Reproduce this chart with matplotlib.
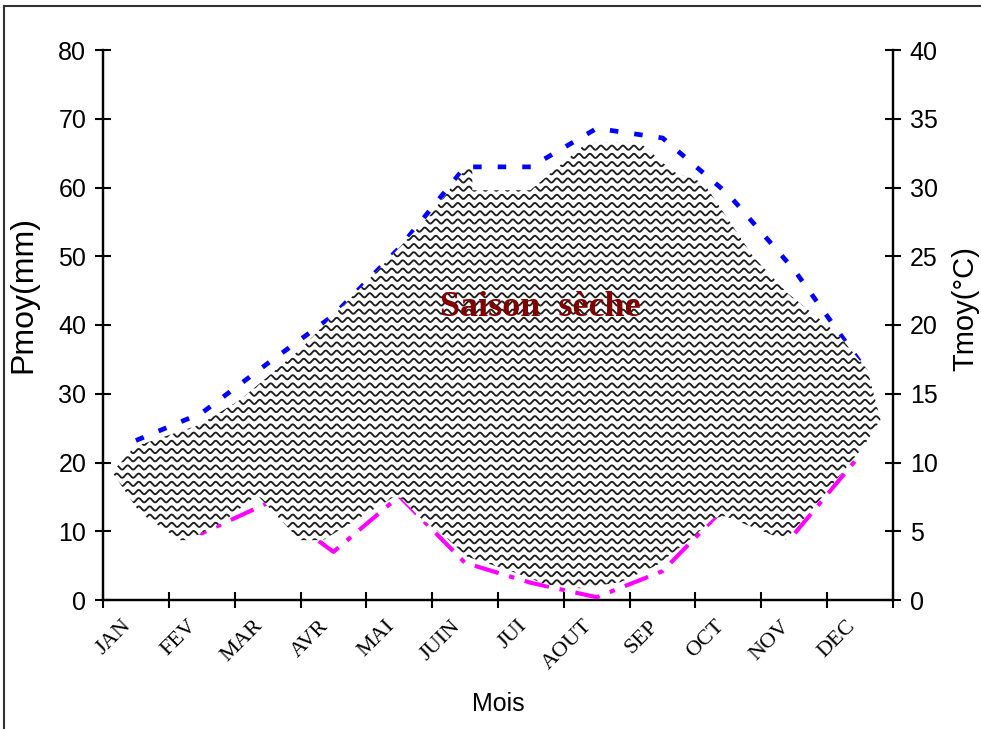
import numpy as np
import matplotlib
matplotlib.use('Agg')
import matplotlib.pyplot as plt
import matplotlib.transforms as mtransforms
from matplotlib.patches import Polygon
from matplotlib.lines import Line2D

mois = ["JAN", "FEV", "MAR", "AVR", "MAI", "JUIN", "JUI", "AOUT", "SEP", "OCT", "NOV", "DEC"]
pmoy = [14.0, 9.7, 14.1, 7.0, 15.1, 5.4, 2.5, 0.4, 4.2, 14.0, 9.6, 21.1]
tmoy = [11.6, 13.6, 17.2, 20.7, 25.6, 31.5, 31.5, 34.3, 33.6, 29.5, 24.0, 17.3]

# contour de la zone "saison seche" tracee a la main (mois, mm)
zone_x = [-0.36, -0.02, 0.97, 1.58, 2.49, 3.71, 4.47, 5.03, 5.11, 5.11, 5.99, 6.85, 7.66,
          8.16, 8.62, 9.38, 9.89, 10.65, 11.11, 11.31, 11.05, 10.35, 9.86, 8.95, 8.77,
          8.47, 7.92, 7.36, 6.75, 6.25, 5.64, 5.03, 4.70, 4.36, 3.97, 2.84, 2.49, 1.84,
          1.32, 0.78, 0.67, 0.06]
zone_y = [18.6, 22.3, 25.5, 29.1, 36.4, 48.3, 56.0, 63.0, 63.0, 59.6, 59.6, 66.5, 66.5,
          62.3, 60.7, 49.9, 44.7, 38.8, 33.5, 26.2, 22.3, 14.1, 8.7, 12.2, 11.9,
          9.2, 5.1, 2.6, 1.7, 2.2, 4.4, 6.3, 9.2, 11.6, 15.3, 8.7, 8.7, 15.3,
          11.3, 8.7, 8.7, 12.7]

sans = ['Liberation Sans', 'DejaVu Sans']
serif = ['Liberation Serif', 'DejaVu Serif']


def wavy_fill(ax, xs, ys):
    poly = Polygon(np.column_stack([xs, ys]), closed=True, facecolor='white',
                   edgecolor='none', zorder=4)
    ax.add_patch(poly)
    # motif ondule : ~11 px de periode, ~8 px entre les rangees
    x = np.linspace(-0.6, 11.6, 4000)
    period = 11 / 65.8
    amp = 2.1 / 6.875
    for y0 in np.arange(-1.0, 82.0, 8.2 / 6.875):
        line, = ax.plot(x, y0 + amp * np.sin(2 * np.pi * x / period),
                        color='#1e1e1e', lw=1.35, zorder=5)
        line.set_clip_path(poly)


def plot_diagram():
    fig = plt.figure(figsize=(9.81, 7.29), dpi=100)
    ax = fig.add_axes([103 / 981, 1 - 600 / 729, 790 / 981, 550 / 729])
    ax2 = ax.twinx()

    xpos = np.arange(len(mois))
    ax2.plot(xpos, tmoy, color='#0000ff', lw=3.4, linestyle=(0, (1.8, 3.4)),
             dash_capstyle='butt', zorder=3)
    ax.plot(xpos, pmoy, color='#ff00ff', lw=3.0, linestyle=(0, (6, 2.6, 1.3, 2.6)),
            dash_capstyle='butt', zorder=3)
    wavy_fill(ax, zone_x, zone_y)

    ax.set_zorder(ax2.get_zorder() + 1)
    ax.patch.set_visible(False)

    ax.set_xlim(-0.5, 11.5)
    ax.set_ylim(0, 80)
    ax2.set_ylim(0, 40)
    ax.set_yticks(np.arange(0, 81, 10))
    ax2.set_yticks(np.arange(0, 41, 5))
    ax.set_xticks(np.arange(-0.5, 12, 1))
    ax.set_xticklabels([])
    ax.set_xticks(xpos, minor=True)
    ax.set_xticklabels(mois, minor=True, rotation=45, ha='right', va='top',
                       rotation_mode='anchor', family=serif, fontsize=16)
    ax.tick_params(axis='x', which='minor', length=0, pad=12)
    shift = mtransforms.ScaledTranslation(-0.14, 0, fig.dpi_scale_trans)
    for lab in ax.get_xticklabels(minor=True):
        lab.set_transform(lab.get_transform() + shift)

    for a in (ax, ax2):
        a.spines['top'].set_visible(False)
        for s in ('left', 'right', 'bottom'):
            a.spines[s].set_linewidth(1.6)
        a.tick_params(which='major', direction='inout', length=12, width=1.5,
                      labelsize=18, pad=6)
        for lab in a.get_yticklabels():
            lab.set_family(sans)

    ax.set_ylabel("Pmoy(mm)", family=sans, fontsize=23)
    ax.yaxis.set_label_coords(-0.082, 0.555)
    ax2.set_ylabel("Tmoy(°C)", family=sans, fontsize=21)
    ax2.yaxis.set_label_coords(1.074, 0.53)
    ax.set_xlabel("Mois", family=sans, fontsize=18, labelpad=13)

    ax.text(6.15, 42.5, "Saison  sèche", family=serif, fontsize=26, fontweight='bold',
            color='#800000', ha='center', va='center', zorder=6)

    # cadre de la zone du graphique (bords haut et gauche visibles)
    fig.add_artist(Line2D([4 / 981, 1.0], [1 - 6 / 729, 1 - 6 / 729],
                          transform=fig.transFigure, color='#333333', lw=1.5))
    fig.add_artist(Line2D([4 / 981, 4 / 981], [0.0, 1 - 6 / 729],
                          transform=fig.transFigure, color='#333333', lw=1.5))

    fig.savefig("out.png", dpi=100)


if __name__ == "__main__":
    plot_diagram()
